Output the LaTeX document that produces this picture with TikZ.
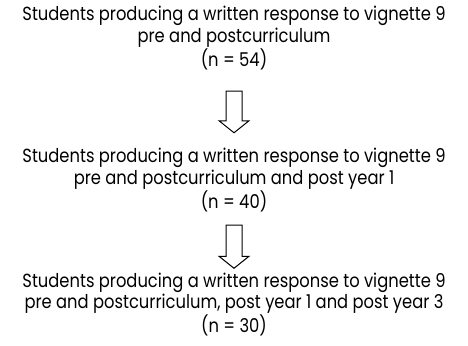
\documentclass[tikz,border=0pt]{standalone}
\usepackage{fontspec}
\setmainfont{Poppins}[FakeStretch=0.86]
\usetikzlibrary{calc}

\tikzset{every picture/.style={line width=0.75pt}}
\tikzset{
	flowtext/.style={align=center, inner sep=0pt, font=\fontsize{14.25}{16.1}\selectfont},
	hollowdown/.style 2 args={draw, to path={
		($(\tikztostart)+(-8,#1)$) -- ($(\tikztostart)+(8,#1)$) -- ($(\tikztotarget)+(8,-#2-12)$)
		-- ($(\tikztotarget)+(15,-#2-12)$) -- ($(\tikztotarget)+(0,-#2)$)
		-- ($(\tikztotarget)+(-15,-#2-12)$) -- ($(\tikztotarget)+(-8,-#2-12)$) -- cycle}}
}

\begin{document}
\begin{tikzpicture}[x=0.75pt,y=0.75pt,yscale=-1,xscale=1]
	\useasboundingbox (0,0) rectangle (468,346);

	% Text Node
	\node[flowtext] (blk1) at (234,38) {Students producing a written response to vignette 9\\pre and postcurriculum\\(n = 54)};
	% Text Node
	\node[flowtext] (blk2) at (234,180) {Students producing a written response to vignette 9\\pre and postcurriculum and post year 1\\(n = 40)};
	% Text Node
	\node[flowtext] (blk3) at (234,304.5) {Students producing a written response to vignette 9\\pre and postcurriculum, post year 1 and post year 3\\(n = 30)};

	%Block Arrows
	\draw[hollowdown={21}{15}] (blk1.south) to (blk2.north);
	\draw[hollowdown={13}{4}] (blk2.south) to (blk3.north);

\end{tikzpicture}
\end{document}
